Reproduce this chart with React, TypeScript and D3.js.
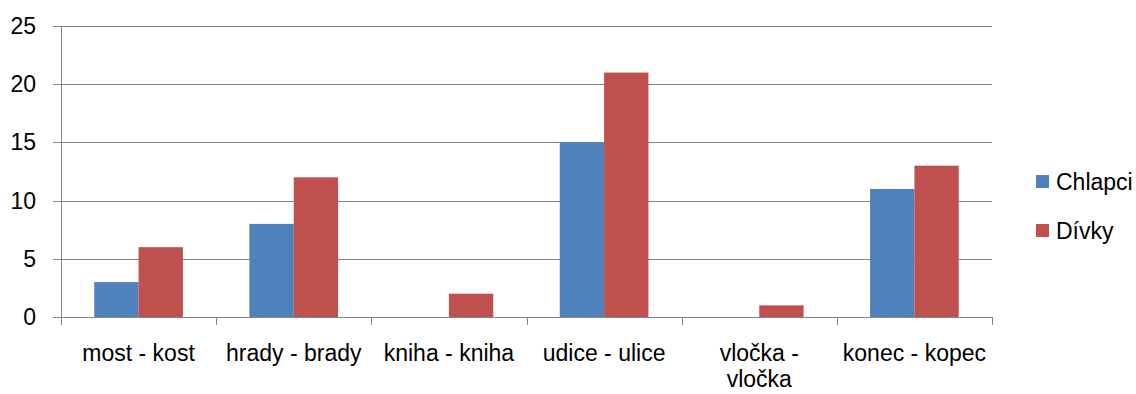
import { useEffect, useRef } from "react";
import * as d3 from "d3";

const categories = [
  "most - kost",
  "hrady - brady",
  "kniha - kniha",
  "udice - ulice",
  "vločka - vločka",
  "konec - kopec",
];
const chlapci = [3, 8, 0, 15, 0, 11];
const divky = [6, 12, 2, 21, 1, 13];
const seriesNames = ["Chlapci", "Dívky"];
const seriesColors = ["#4F81BD", "#C0504D"];
const yTicks = [0, 5, 10, 15, 20, 25];

const FONT = "Liberation Sans, Arial, sans-serif";
const FONT_SIZE = 23;

// wrap a label into several lines when it is wider than the band
const wrap = (sel: d3.Selection<SVGTextElement, string, SVGGElement, unknown>, width: number) => {
  sel.each(function (d) {
    const text = d3.select(this);
    const words = d.split(" ");
    const x = text.attr("x");
    const y = text.attr("y");
    text.text(null);
    let line: string[] = [];
    let lineNo = 0;
    let tspan = text.append("tspan").attr("x", x).attr("y", y);
    for (const w of words) {
      line.push(w);
      tspan.text(line.join(" "));
      if ((tspan.node() as SVGTSpanElement).getComputedTextLength() > width && line.length > 1) {
        line.pop();
        tspan.text(line.join(" "));
        line = [w];
        lineNo++;
        tspan = text
          .append("tspan")
          .attr("x", x)
          .attr("y", +y! + lineNo * 26)
          .text(w);
      }
    }
  });
};

const App = () => {
  const svgRef = useRef<SVGSVGElement>(null);

  useEffect(() => {
    if (!svgRef.current) return;
    const svg = d3.select(svgRef.current);
    svg.selectAll("*").remove();

    const left = 61;
    const right = 992;
    const top = 26;
    const bottom = 317;

    const x = d3.scaleBand<string>().domain(categories).range([left, right]).padding(0);
    const y = d3.scaleLinear().domain([0, 25]).range([bottom, top]);
    const bw = x.bandwidth();
    const barW = bw / 3.5;
    const offset = (bw - 2 * barW) / 2;

    // gridlines
    svg
      .append("g")
      .selectAll("line")
      .data(yTicks)
      .enter()
      .append("line")
      .attr("x1", left - 8)
      .attr("x2", right)
      .attr("y1", (d) => Math.round(y(d)) + 0.5)
      .attr("y2", (d) => Math.round(y(d)) + 0.5)
      .attr("stroke", "#868686")
      .attr("stroke-width", 1);

    // y axis line
    svg
      .append("line")
      .attr("x1", left + 0.5)
      .attr("x2", left + 0.5)
      .attr("y1", top)
      .attr("y2", bottom + 8)
      .attr("stroke", "#868686");

    // x category ticks
    const bounds = [...categories.map((c) => x(c) as number), right];
    svg
      .append("g")
      .selectAll("line")
      .data(bounds.slice(1))
      .enter()
      .append("line")
      .attr("x1", (d) => Math.round(d) + 0.5)
      .attr("x2", (d) => Math.round(d) + 0.5)
      .attr("y1", bottom)
      .attr("y2", bottom + 8)
      .attr("stroke", "#868686");

    // bars
    const series = [chlapci, divky];
    series.forEach((vals, si) => {
      svg
        .append("g")
        .selectAll("rect")
        .data(vals)
        .enter()
        .append("rect")
        .attr("x", (d, i) => (x(categories[i]) as number) + offset + si * barW)
        .attr("y", (d) => y(d))
        .attr("width", barW)
        .attr("height", (d) => y(0) - y(d))
        .attr("fill", seriesColors[si]);
    });

    // y labels
    svg
      .append("g")
      .selectAll("text")
      .data(yTicks)
      .enter()
      .append("text")
      .attr("x", 36)
      .attr("y", (d) => y(d))
      .attr("dy", "0.35em")
      .attr("text-anchor", "end")
      .attr("font-family", FONT)
      .attr("font-size", FONT_SIZE)
      .attr("fill", "#000")
      .text((d) => d);

    // x labels
    svg
      .append("g")
      .selectAll<SVGTextElement, string>("text")
      .data(categories)
      .enter()
      .append("text")
      .attr("x", (d) => (x(d) as number) + bw / 2)
      .attr("y", 361)
      .attr("text-anchor", "middle")
      .attr("font-family", FONT)
      .attr("font-size", FONT_SIZE)
      .attr("fill", "#000")
      .text((d) => d)
      .call(wrap, bw - 7);

    // legend
    const legend = svg.append("g");
    seriesNames.forEach((name, i) => {
      const ly = 182 + i * 49;
      legend
        .append("rect")
        .attr("x", 1036)
        .attr("y", ly - 7)
        .attr("width", 13)
        .attr("height", 13)
        .attr("fill", seriesColors[i]);
      legend
        .append("text")
        .attr("x", 1056)
        .attr("y", ly)
        .attr("dy", "0.35em")
        .attr("font-family", FONT)
        .attr("font-size", FONT_SIZE)
        .attr("fill", "#000")
        .text(name);
    });
  }, []);

  return (
    <svg
      ref={svgRef}
      width={1136}
      height={394}
      style={{ position: "absolute", left: 0, top: 0, background: "#fff" }}
    ></svg>
  );
};

export default App;
